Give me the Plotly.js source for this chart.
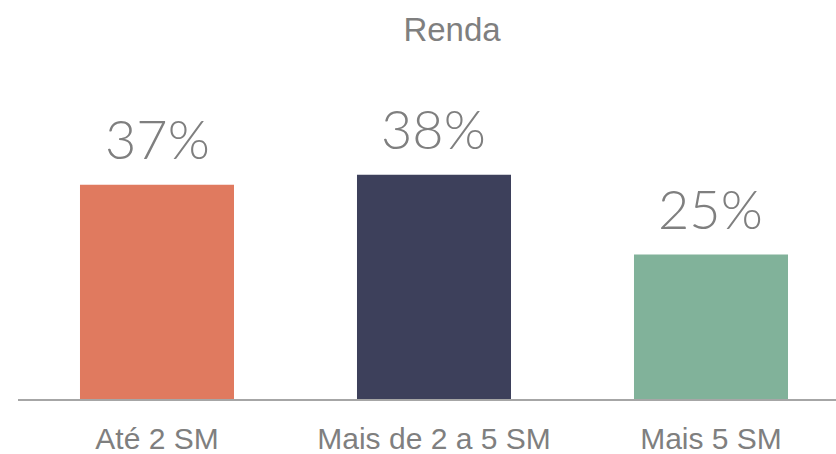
<!DOCTYPE html>
<html>
<head>
<meta charset="utf-8">
<script src="https://cdn.plot.ly/plotly-3.0.1.min.js"></script>
<style>html,body{margin:0;padding:0;background:#fff;}#chart{width:836px;height:454px;}</style>
</head>
<body>
<div id="chart"></div>
<script>
const categories = ["Até 2 SM", "Mais de 2 a 5 SM", "Mais 5 SM"];
const values = [36.5, 38.2, 24.6];
const valueLabels = ["37%", "38%", "25%"];
const barColors = ["#E07A5F", "#3D405B", "#81B29A"];
const chartTitle = "Renda";

const gray = "#7f7f7f";
const trace = {
  type: "bar",
  x: categories,
  y: values,
  marker: {color: barColors},
  width: 0.556,
  hoverinfo: "none"
};

const annotations = categories.map((c, i) => ({
  x: c, y: values[i], xref: "x", yref: "y",
  text: valueLabels[i], showarrow: false,
  yanchor: "bottom", yshift: 12,
  font: {family: "Lato, 'Liberation Sans', Arial, sans-serif", size: 54, color: gray, weight: 300}
}));

const layout = {
  width: 836, height: 454,
  margin: {l: 18, r: 0, t: 0, b: 54.5},
  paper_bgcolor: "#fff", plot_bgcolor: "#fff",
  showlegend: false,
  title: {
    text: chartTitle, xref: "container", yref: "container",
    x: 452/836, xanchor: "center", y: 1 - 29/454, yanchor: "middle",
    font: {family: "'Liberation Sans', Arial, sans-serif", size: 33, color: gray}
  },
  xaxis: {
    type: "category",
    range: [-0.5018, 2.4513],
    showline: true, linecolor: "#a6a6a6", linewidth: 2,
    ticks: "", showgrid: false, zeroline: false,
    tickfont: {family: "'Liberation Sans', Arial, sans-serif", size: 30, color: gray},
    ticklabelstandoff: 12,
    fixedrange: true
  },
  yaxis: {
    range: [0, 399.5/5.88],
    visible: false, showgrid: false, zeroline: false,
    fixedrange: true
  },
  annotations: annotations
};

Plotly.newPlot("chart", [trace], layout, {displayModeBar: false, staticPlot: true});
</script>
</body>
</html>
